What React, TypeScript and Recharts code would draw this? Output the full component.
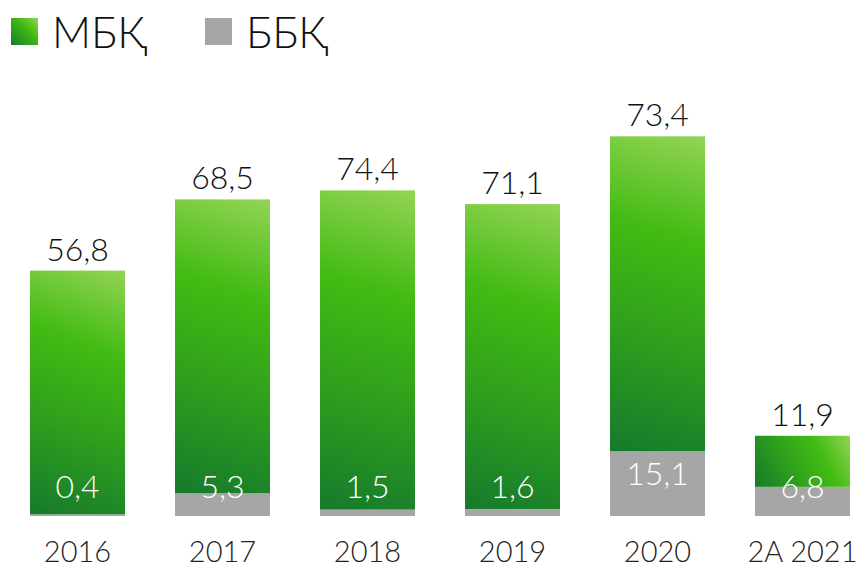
import { Bar, BarChart, LabelList, XAxis, YAxis } from "recharts";

const years = ["2016", "2017", "2018", "2019", "2020", "2A 2021"];
const mbk = [56.8, 68.5, 74.4, 71.1, 73.4, 11.9];
const bbk = [0.4, 5.3, 1.5, 1.6, 15.1, 6.8];

const GRAY = "#a6a6a6";
const FONT = "Lato, 'Open Sans', sans-serif";

const data = years.map((year, i) => ({ year, mbk: mbk[i], bbk: bbk[i] }));

const fmt = (v: number) => v.toFixed(1).replace(".", ",");

// green bar with its own corner-to-corner gradient (light top right, dark bottom left)
function GreenBar(props: any) {
  const { x, y, width, height, index } = props;
  if (!height || height <= 0) return null;
  const id = `mbk-${index}`;
  return (
    <g>
      <defs>
        <linearGradient id={id} gradientUnits="userSpaceOnUse" x1={x + width} y1={y} x2={x} y2={y + height}>
          <stop offset="0%" stopColor="#93d455" />
          <stop offset="32%" stopColor="#42bb13" />
          <stop offset="62%" stopColor="#2fa11c" />
          <stop offset="100%" stopColor="#167a2c" />
        </linearGradient>
      </defs>
      <rect x={x} y={y} width={width} height={height} fill={`url(#${id})`} />
    </g>
  );
}

function TopLabel(props: any) {
  const { x, y, width, value } = props;
  return (
    <text
      x={x + width / 2}
      y={y - 10}
      textAnchor="middle"
      fontSize={32}
      fontWeight={300}
      fontFamily={FONT}
      fill="#111"
    >
      {fmt(value)}
    </text>
  );
}

function InnerLabel(props: any) {
  const { x, y, width, height, value } = props;
  const bottom = y + height;
  const cy = Math.min(bottom - 31, y + 21);
  return (
    <text
      x={x + width / 2}
      y={cy}
      textAnchor="middle"
      dominantBaseline="central"
      fontSize={32}
      fontWeight={300}
      fontFamily={FONT}
      fill="#fff"
    >
      {fmt(value)}
    </text>
  );
}

function LegendItem({ label, swatch, left }: { label: string; swatch: string; left: number }) {
  return (
    <div style={{ position: "absolute", left, top: 0, display: "flex", alignItems: "center", height: 62 }}>
      <div style={{ width: 27, height: 27, background: swatch }} />
      <span style={{ marginLeft: 14, fontSize: 43, fontWeight: 300, fontFamily: FONT, color: "#111" }}>
        {label}
      </span>
    </div>
  );
}

export default function App() {
  return (
    <div style={{ position: "absolute", left: 0, top: 0, width: 861, height: 569, overflow: "hidden", background: "#fff" }}>
      <LegendItem
        label="МБҚ"
        left={11}
        swatch="linear-gradient(45deg, #167a2c 0%, #42bb13 60%, #93d455 100%)"
      />
      <LegendItem label="ББҚ" left={205} swatch={GRAY} />
      <BarChart
        width={880}
        height={569}
        data={data}
        margin={{ top: 87, right: 5, bottom: 0, left: 5 }}
        style={{ position: "absolute", left: 0, top: 0 }}
      >
        <XAxis
          dataKey="year"
          axisLine={false}
          tickLine={false}
          height={53}
          tickMargin={19}
          tick={{ fontSize: 29, fontWeight: 300, fontFamily: FONT, fill: "#222" }}
        />
        <YAxis hide domain={[0, 100]} />
        <Bar dataKey="bbk" stackId="a" fill={GRAY} barSize={95} isAnimationActive={false}>
          <LabelList dataKey="bbk" content={InnerLabel} />
        </Bar>
        <Bar dataKey="mbk" stackId="a" shape={GreenBar} barSize={95} isAnimationActive={false}>
          <LabelList dataKey="mbk" content={TopLabel} />
        </Bar>
      </BarChart>
    </div>
  );
}
